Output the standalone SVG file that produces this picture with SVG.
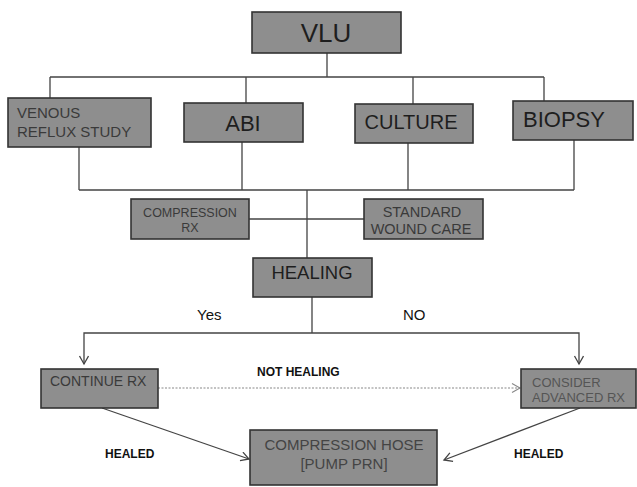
<svg xmlns="http://www.w3.org/2000/svg" width="637" height="487" viewBox="0 0 637 487">
<style>
.box{fill:#8e8e8e;stroke:#333;stroke-width:1.6}
.ln{fill:none;stroke:#444;stroke-width:1.3}
.dot{fill:none;stroke:#888;stroke-width:1.1;stroke-dasharray:2 1.5}
text{font-family:"Liberation Sans",Arial,sans-serif}
.big{fill:#1e1e1e}
.sm{fill:#3a3a3a}
.lbl{fill:#111;font-weight:bold;font-size:12px}
</style>
<defs>
<marker id="arr" markerUnits="userSpaceOnUse" markerWidth="12" markerHeight="12" refX="9" refY="5" orient="auto">
<path d="M1,0.5 L9,5 L1,9.5" fill="none" stroke="#444" stroke-width="1.3"/>
</marker>
<marker id="arrg" markerUnits="userSpaceOnUse" markerWidth="12" markerHeight="12" refX="9" refY="5" orient="auto">
<path d="M1,0.5 L9,5 L1,9.5" fill="none" stroke="#888" stroke-width="1.1"/>
</marker>
</defs>
<g id="connectors">
<path class="ln" d="M327 53 V77 M50 77 H544 M50 77 V98 M246 77 V103 M413 77 V104 M544 77 V101"/>
<path class="ln" d="M79 147 V190 M242 142 V190 M408 143 V190 M574 140 V190 M79 190 H574 M307 190 V258 M249 219 H364 M312 297 V333"/>
<path class="ln" d="M312 333 H84 V364" marker-end="url(#arr)"/>
<path class="ln" d="M312 333 H579 V364" marker-end="url(#arr)"/>
<path class="dot" d="M158 388 H520" marker-end="url(#arrg)"/>
<path class="ln" d="M102 408 L249 459" marker-end="url(#arr)"/>
<path class="ln" d="M580 408 L444 460" marker-end="url(#arr)"/>
</g>
<g id="vlu">
<rect class="box" x="252" y="12" width="149" height="41"/>
<text class="big" x="326" y="42" font-size="26" text-anchor="middle">VLU</text>
</g>
<g id="venous">
<rect class="box" x="8" y="98" width="143" height="49"/>
<text class="sm" x="17" y="118" font-size="15">VENOUS</text>
<text class="sm" x="17" y="137" font-size="15">REFLUX STUDY</text>
</g>
<g id="abi">
<rect class="box" x="184" y="103" width="119" height="39"/>
<text class="big" x="243" y="131" font-size="22" text-anchor="middle">ABI</text>
</g>
<g id="culture">
<rect class="box" x="355" y="104" width="118" height="39"/>
<text class="big" x="411" y="129" font-size="20" text-anchor="middle">CULTURE</text>
</g>
<g id="biopsy">
<rect class="box" x="513" y="101" width="120" height="39"/>
<text class="big" x="523" y="127" font-size="22">BIOPSY</text>
</g>
<g id="compression-rx">
<rect class="box" x="131" y="199" width="118" height="40"/>
<text class="sm" x="190" y="217" font-size="12.5" text-anchor="middle">COMPRESSION</text>
<text class="sm" x="190" y="232" font-size="12.5" text-anchor="middle">RX</text>
</g>
<g id="standard-wound-care">
<rect class="box" x="364" y="199" width="119" height="40"/>
<text class="sm" x="422" y="217" font-size="14.5" text-anchor="middle">STANDARD</text>
<text class="sm" x="421" y="234" font-size="14.5" text-anchor="middle">WOUND CARE</text>
</g>
<g id="healing">
<rect class="box" x="253" y="258" width="119" height="39"/>
<text class="big" x="312" y="279" font-size="18.5" text-anchor="middle">HEALING</text>
</g>
<g id="labels">
<text x="197" y="320" font-size="15" fill="#111">Yes</text>
<text x="403" y="320" font-size="15" fill="#111">NO</text>
<text class="lbl" x="257" y="376">NOT HEALING</text>
<text class="lbl" x="105" y="458">HEALED</text>
<text class="lbl" x="514" y="458">HEALED</text>
</g>
<g id="continue-rx">
<rect class="box" x="41" y="369" width="117" height="39"/>
<text class="sm" x="50" y="386" font-size="14">CONTINUE RX</text>
</g>
<g id="consider-advanced-rx">
<rect class="box" x="521" y="369" width="115" height="39"/>
<text x="532" y="387" font-size="13" fill="#555">CONSIDER</text>
<text x="532" y="402" font-size="13" fill="#555">ADVANCED RX</text>
</g>
<g id="compression-hose">
<rect class="box" x="250" y="430" width="187" height="55"/>
<text x="344" y="450" font-size="15" fill="#444" text-anchor="middle">COMPRESSION HOSE</text>
<text x="344" y="469" font-size="15" fill="#444" text-anchor="middle">[PUMP PRN]</text>
</g>
</svg>
